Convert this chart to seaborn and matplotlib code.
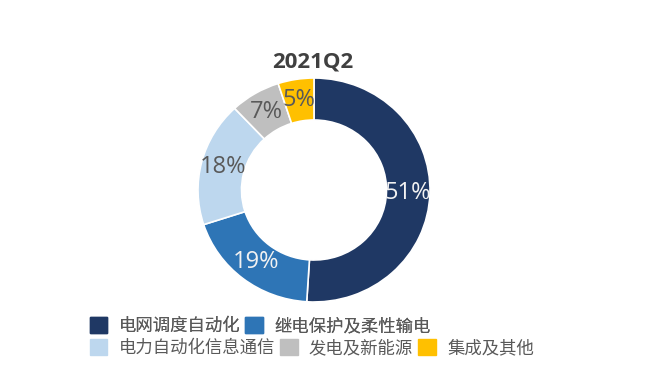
import matplotlib
matplotlib.use("Agg")
import matplotlib.pyplot as plt
from matplotlib.patches import Patch
import seaborn as sns

categories = ["电网调度自动化", "继电保护及柔性输电", "电力自动化信息通信", "发电及新能源", "集成及其他"]
values = [51, 19, 18, 7, 5]
colors = ["#1F3864", "#2E75B6", "#BDD7EE", "#BFBFBF", "#FFC000"]
label_colors = ["#F2F2F2", "#F2F2F2", "#595959", "#595959", "#595959"]
title = "2021Q2"

sns.set_theme(style="white")
plt.rcParams['font.family'] = ['Noto Sans CJK SC', 'DejaVu Sans']

fig = plt.figure(figsize=(6.59, 3.68), dpi=100)
ax = fig.add_axes([198/659, 66/368, 232/659, 224/368])
wedges, texts, autotexts = ax.pie(
    values, colors=colors, startangle=90, counterclock=False,
    autopct=lambda p: f"{p:.0f}%", pctdistance=0.81,
    wedgeprops=dict(width=0.375, edgecolor="white", linewidth=1.2),
)
for t, c in zip(autotexts, label_colors):
    t.set_color(c)
    t.set_fontsize(17)
    t.set_family(['Open Sans', 'DejaVu Sans'])
ax.set_aspect("auto")
ax.set_xlim(-1, 1)
ax.set_ylim(-1, 1)
fig.text(313/659, 1 - 62/368, title, ha="center", va="center",
         fontsize=16, fontweight="bold", color="#404040",
         family=['Open Sans', 'DejaVu Sans'])

handles = [Patch(facecolor=c, edgecolor=c) for c in colors]
common = dict(frameon=False, fontsize=12.5, handlelength=1.0, handleheight=1.0,
              handletextpad=0.65, columnspacing=0.3, labelcolor="#595959",
              borderaxespad=0, borderpad=0)
leg1 = fig.legend(handles[:2], categories[:2], ncol=2, loc="center left",
                  bbox_to_anchor=(90/659, 1 - 326/368), **common)
leg2 = fig.legend(handles[2:], categories[2:], ncol=3, loc="center left",
                  bbox_to_anchor=(90/659, 1 - 348/368), **common)
fig.add_artist(leg1)

fig.savefig("out.png", dpi=100)
